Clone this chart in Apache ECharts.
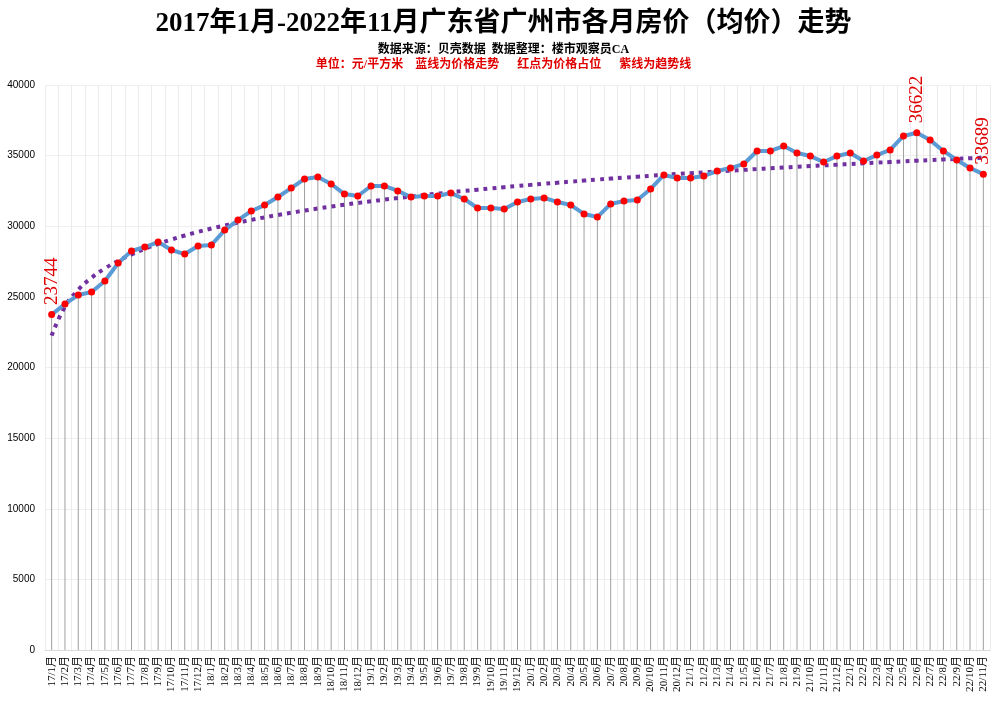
<!DOCTYPE html>
<html><head><meta charset="utf-8">
<script src="https://cdn.jsdelivr.net/npm/echarts@6/dist/echarts.min.js"></script>
<style>html,body{margin:0;padding:0;background:#fff}#c{width:1007px;height:711px}</style>
</head><body><div id="c"></div>
<script>
const years = [17,18,19,20,21,22];
const categories = [];
years.forEach(y=>{for(let m=1;m<=12;m++){ if(y===22&&m>11) break; categories.push(y+'/'+m+'月');}});
const prices = [23744,24500,25130,25350,26120,27400,28250,28530,28880,28320,28030,28600,
28670,29730,30440,31080,31500,32070,32700,33350,33490,32990,32280,32140,
32850,32850,32500,32070,32140,32140,32350,31930,31290,31290,31220,31720,
31930,32000,31720,31500,30870,30650,31580,31790,31860,32640,33630,33420,
33420,33560,33910,34120,34410,35330,35330,35680,35190,34970,34550,34970,
35190,34620,35040,35400,36390,36622,36100,35330,34690,34120,33689];
const yTicks = {min:0,max:40000,interval:5000};
// logarithmic trend fit from the data
const n = prices.length;
let sx=0,sy=0,sxx=0,sxy=0;
prices.forEach((v,i)=>{const x=Math.log(i+1);sx+=x;sy+=v;sxx+=x*x;sxy+=x*v;});
const b=(n*sxy-sx*sy)/(n*sxx-sx*sx), a=(sy-b*sx)/n;
const trend = prices.map((v,i)=>a+b*Math.log(i+1));
const labelIdx = [0, prices.indexOf(Math.max(...prices)), n-1];
const chart = echarts.init(document.getElementById('c'));
chart.setOption({
  animation:false,
  backgroundColor:'#fff',
  title:[
    {text:'2017年1月-2022年11月广东省广州市各月房价（均价）走势',left:'center',top:6,
     textStyle:{fontFamily:'Liberation Serif, Noto Sans CJK SC',fontSize:27,fontWeight:'bold',color:'#000'}},
    {text:'数据来源：贝壳数据  数据整理：楼市观察员CA',left:'center',top:39,
     textStyle:{fontFamily:'Liberation Serif, Noto Sans CJK SC',fontSize:12,fontWeight:'bold',color:'#000'}},
    {text:'单位：元/平方米    蓝线为价格走势      红点为价格占位      紫线为趋势线',left:'center',top:54,
     textStyle:{fontFamily:'Liberation Serif, Noto Sans CJK SC',fontSize:12,fontWeight:'bold',color:'#e00000'}}
  ],
  grid:{left:45,right:17,top:85,bottom:61},
  xAxis:{type:'category',data:categories,boundaryGap:true,
    axisLine:{lineStyle:{color:'#d9d9d9'}},axisTick:{show:false},
    splitLine:{show:true,lineStyle:{color:'#ececec',width:1}},
    axisLabel:{rotate:90,interval:0,fontFamily:'Liberation Serif, Noto Sans CJK SC',fontSize:11,color:'#000',margin:6}},
  yAxis:{type:'value',...yTicks,
    axisLine:{show:false},axisTick:{show:false},
    splitLine:{lineStyle:{color:'#efefef'}},
    axisLabel:{fontFamily:'Liberation Sans',fontSize:10,color:'#000',margin:10,formatter:v=>String(v)}},
  series:[
    {type:'bar',data:prices,barWidth:1,itemStyle:{color:'#a0a0a0'},silent:true,z:1},
    {type:'line',data:trend,showSymbol:false,smooth:true,z:2,
     lineStyle:{color:'#7030a0',width:4,type:[4,5]}},
    {type:'line',data:prices,z:3,symbol:'circle',symbolSize:7,
     lineStyle:{color:'#5b9bd5',width:4},itemStyle:{color:'#ff0000'},
     label:{show:true,position:'top',rotate:90,align:'left',verticalAlign:'middle',distance:6,
       fontFamily:'Liberation Serif',fontSize:19,color:'#e00000',
       formatter:p=>labelIdx.includes(p.dataIndex)?String(p.value):''}}
  ]
});
</script></body></html>
